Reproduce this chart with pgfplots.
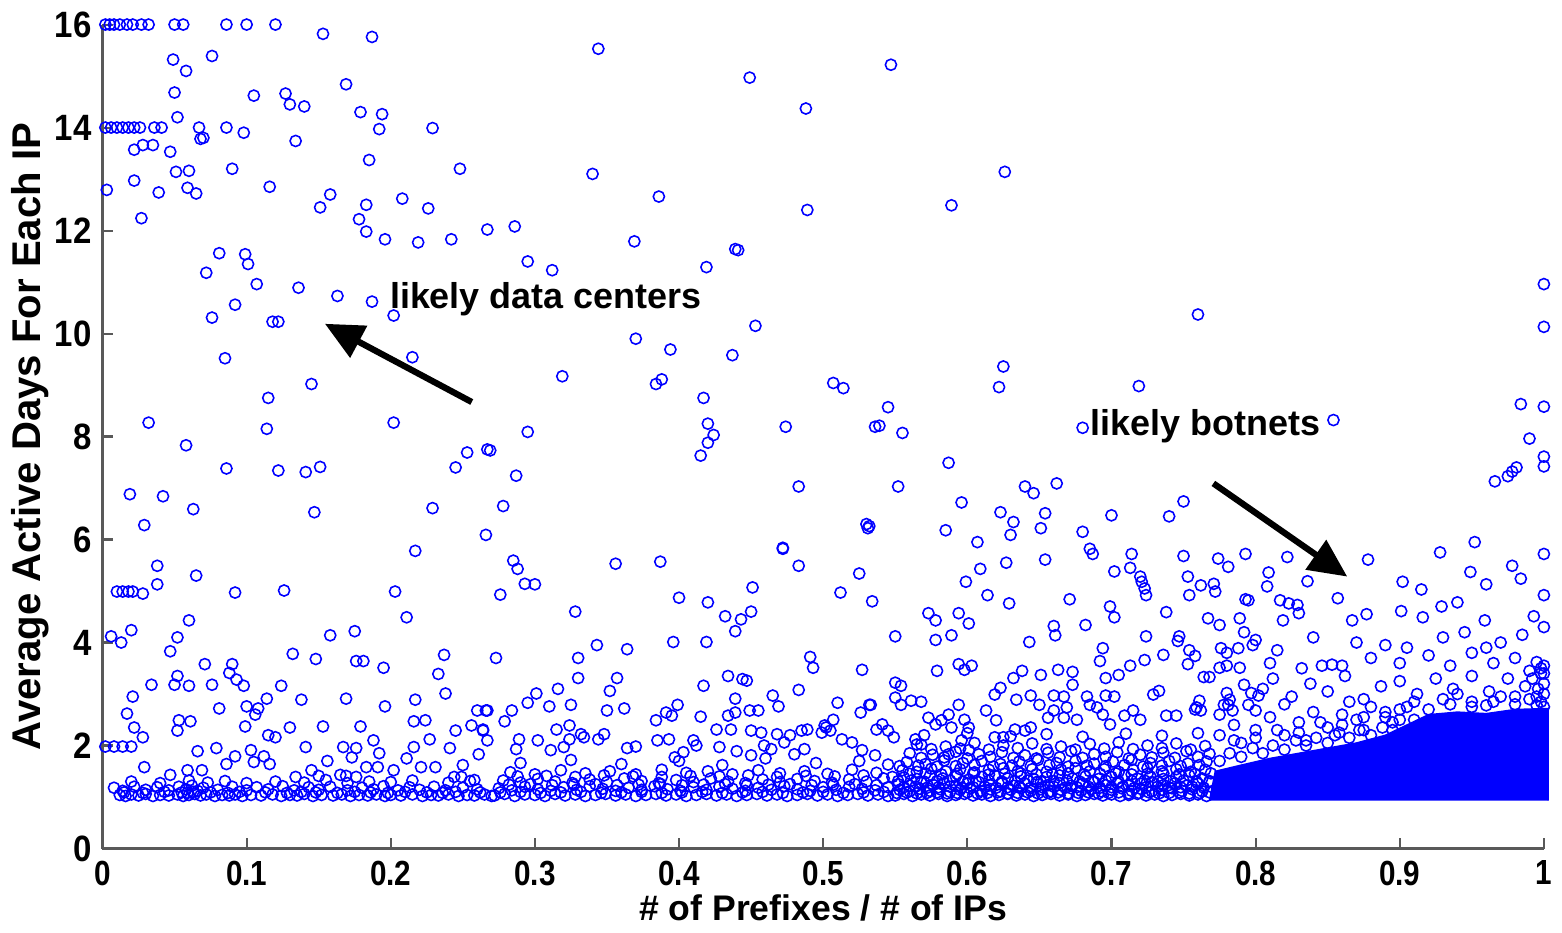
\documentclass[border=0pt]{standalone}
\usepackage{fontspec}
\setmainfont{Liberation Sans}
\usepackage{pgfplots}
\pgfplotsset{compat=1.18}
\usetikzlibrary{arrows.meta}

\pgfplotsset{dot/.style={only marks, mark=o, mark size=1.6pt, color=blue, mark options={line width=0.45pt}}}

\begin{document}
\begin{tikzpicture}
\begin{axis}[
    scale only axis,
    width=14.52cm, height=8.30cm,
    xmin=0, xmax=1, ymin=0, ymax=16,
    clip=false,
    axis x line*=bottom, axis y line*=left,
    axis line style={black!65, line width=0.6pt},
    tick align=inside,
    major tick length=1.1mm,
    tick style={black!65, line width=0.6pt},
    xtick={0,0.1,0.2,0.3,0.4,0.5,0.6,0.7,0.8,0.9,1},
    xticklabels={0,0.1,0.2,0.3,0.4,0.5,0.6,0.7,0.8,0.9,1},
    ytick={0,2,4,6,8,10,12,14,16},
    yticklabels={0,2,4,6,8,10,12,14,16},
    x tick label style={font=\bfseries\fontsize{10}{12}\selectfont, xscale=0.85},
    y tick label style={font=\bfseries\fontsize{10.5}{12}\selectfont, xscale=0.9},
    xlabel={\# of Prefixes / \# of IPs},
    ylabel={Average Active Days For Each IP},
    xlabel style={font=\bfseries\fontsize{10.2}{12}\selectfont, at={(axis description cs:0.5,-0.072)}, anchor=center},
    ylabel style={font=\bfseries\fontsize{11.5}{13}\selectfont, at={(axis description cs:-0.05,0.5)}, anchor=center},
]
% dense core of the botnet region
\addplot[fill=blue, draw=blue, line width=0.4pt, forget plot] coordinates {
(0.768,0.93)(0.772,1.50)(0.790,1.62)(0.810,1.75)(0.830,1.85)(0.850,1.95)(0.870,2.05)(0.890,2.20)
(0.905,2.40)(0.920,2.60)(0.940,2.65)(0.960,2.62)(0.980,2.70)(1.003,2.72)(1.003,0.93)};

% sparse points
\addplot[dot] coordinates {
(0.002,16)(0.005,16)(0.008,16)(0.012,16)(0.017,16)(0.021,16)(0.027,16)(0.032,16)(0.050,16)(0.056,16)(0.086,16)(0.100,16)(0.120,16)
(0.153,15.82)(0.187,15.76)(0.344,15.53)(0.547,15.22)(0.449,14.97)(0.488,14.37)
(0.049,15.32)(0.058,15.1)(0.076,15.39)(0.050,14.68)(0.105,14.62)(0.127,14.66)(0.130,14.45)(0.140,14.41)(0.169,14.84)(0.179,14.3)(0.194,14.26)(0.192,13.97)(0.229,13.99)(0.052,14.2)
(0.002,14)(0.006,14)(0.010,14)(0.014,14)(0.018,14)(0.022,14)(0.026,14)(0.036,14)(0.041,14)(0.067,14)(0.086,14)(0.098,13.9)
(0.068,13.78)(0.070,13.8)(0.022,13.57)(0.028,13.66)(0.035,13.66)(0.047,13.53)(0.134,13.74)(0.185,13.37)(0.248,13.2)(0.051,13.14)(0.060,13.16)(0.090,13.2)
(0.022,12.97)(0.003,12.79)(0.039,12.74)(0.059,12.83)(0.065,12.72)(0.116,12.85)(0.158,12.7)(0.151,12.45)(0.183,12.5)(0.208,12.62)(0.226,12.43)(0.027,12.24)
(0.178,12.22)(0.183,11.98)(0.196,11.83)(0.219,11.77)(0.242,11.83)(0.267,12.02)(0.081,11.56)(0.099,11.54)(0.101,11.35)(0.072,11.18)(0.107,10.96)(0.136,10.89)
(0.286,12.08)(0.295,11.4)(0.312,11.23)(0.369,11.79)(0.419,11.29)(0.439,11.64)(0.441,11.62)(0.386,12.66)(0.340,13.1)(0.489,12.4)(0.626,13.14)(0.589,12.49)
(1.0,10.96)(1.0,10.13)(0.760,10.37)
(0.163,10.73)(0.187,10.62)(0.202,10.35)(0.092,10.56)(0.076,10.31)(0.118,10.23)(0.122,10.23)(0.085,9.52)(0.215,9.54)(0.145,9.02)(0.115,8.75)(0.032,8.27)
(0.202,8.27)(0.114,8.15)(0.058,7.83)(0.086,7.38)(0.122,7.34)(0.141,7.31)(0.151,7.41)(0.253,7.69)(0.245,7.4)(0.267,7.75)(0.019,6.88)(0.042,6.84)(0.063,6.59)
(0.147,6.53)(0.029,6.28)(0.229,6.61)(0.266,6.09)(0.217,5.78)
(0.370,9.9)(0.394,9.69)(0.453,10.15)(0.437,9.58)(0.319,9.17)(0.384,9.02)(0.388,9.11)(0.417,8.75)(0.420,8.25)(0.424,8.03)(0.420,7.88)(0.415,7.63)(0.474,8.19)
(0.507,9.04)(0.514,8.94)(0.536,8.19)(0.295,8.09)(0.269,7.73)(0.287,7.24)(0.278,6.65)(0.483,7.03)(0.530,6.3)(0.531,6.22)(0.472,5.84)
(0.625,9.36)(0.622,8.96)(0.719,8.98)(0.680,8.17)(0.545,8.57)(0.539,8.21)(0.555,8.07)(0.587,7.49)(0.552,7.03)(0.596,6.72)(0.640,7.03)(0.646,6.9)(0.662,7.09)
(0.623,6.53)(0.632,6.34)(0.654,6.51)(0.651,6.22)(0.630,6.09)(0.585,6.18)(0.607,5.95)(0.680,6.15)(0.700,6.47)(0.740,6.45)(0.750,6.74)(0.532,6.26)
(0.854,8.32)(0.984,8.63)(1.0,8.58)(0.990,7.96)(1.0,7.61)(1.0,7.42)(0.981,7.4)(0.978,7.32)(0.975,7.23)(0.966,7.13)(0.952,5.95)
(0.822,5.66)(0.878,5.61)(0.928,5.75)(1.0,5.72)(0.809,5.36)(0.808,5.09)(0.836,5.19)(0.817,4.82)(0.823,4.76)(0.829,4.73)(0.830,4.57)(0.857,4.86)(0.902,5.18)
(0.915,5.03)(0.949,5.37)(0.978,5.49)(0.984,5.24)(0.960,5.13)(1.0,4.92)(0.929,4.7)(0.940,4.78)(0.901,4.61)(0.916,4.49)(0.877,4.55)(0.867,4.43)(0.959,4.43)
(0.993,4.51)(0.819,4.43)(0.795,4.82)
};

% lower left region
\addplot[dot] coordinates {
(0.038,5.49)(0.038,5.13)(0.065,5.3)(0.010,4.99)(0.014,4.99)(0.018,4.99)(0.021,4.99)(0.028,4.95)(0.092,4.97)(0.126,5.01)(0.203,4.99)(0.211,4.49)(0.060,4.43)
(0.020,4.24)(0.052,4.1)(0.006,4.12)(0.013,4.0)(0.047,3.83)(0.132,3.78)(0.148,3.68)(0.158,4.14)(0.175,4.22)(0.071,3.58)(0.090,3.58)(0.088,3.41)(0.093,3.28)
(0.098,3.16)(0.034,3.18)(0.050,3.18)(0.060,3.16)(0.076,3.18)(0.052,3.35)(0.021,2.95)(0.017,2.62)(0.022,2.35)(0.028,2.16)(0.002,1.98)(0.008,1.98)(0.014,1.98)
(0.020,1.98)(0.029,1.58)(0.053,2.49)(0.061,2.47)(0.052,2.29)(0.081,2.72)(0.100,2.76)(0.108,2.72)(0.106,2.6)(0.114,2.91)(0.099,2.37)(0.124,3.16)(0.138,2.89)
(0.169,2.91)(0.195,3.51)(0.196,2.76)(0.217,2.89)(0.237,3.76)(0.233,3.39)(0.238,3.01)(0.260,2.68)(0.266,2.68)(0.256,2.39)(0.245,2.29)(0.264,2.29)(0.216,2.47)
(0.224,2.49)(0.181,3.64)(0.176,3.64)(0.130,2.35)(0.153,2.37)(0.179,2.37)(0.188,2.1)(0.227,2.12)(0.115,2.2)(0.120,2.16)(0.066,1.89)(0.079,1.95)(0.092,1.79)
(0.103,1.91)(0.112,1.79)(0.116,1.64)(0.105,1.68)(0.086,1.64)(0.141,1.97)(0.167,1.97)(0.176,1.95)(0.173,1.77)(0.192,1.85)(0.211,1.75)(0.216,1.97)(0.241,1.95)
(0.250,1.62)(0.261,1.83)(0.156,1.7)(0.231,1.58)(0.059,1.52)(0.069,1.52)(0.047,1.43)(0.134,1.39)(0.145,1.52)(0.150,1.41)(0.165,1.43)(0.169,1.41)(0.176,1.39)
(0.183,1.58)(0.191,1.58)(0.202,1.52)(0.221,1.58)(0.244,1.39)(0.249,1.39)(0.258,1.33)
(0.012,1.04)(0.016,1.02)(0.020,1.05)(0.025,1.03)(0.030,1.06)(0.035,1.02)(0.040,1.04)(0.046,1.03)(0.052,1.05)(0.056,1.02)(0.060,1.04)(0.064,1.06)(0.068,1.03)
(0.072,1.05)(0.078,1.02)(0.083,1.04)(0.088,1.03)(0.092,1.05)(0.097,1.02)(0.103,1.04)(0.110,1.03)(0.118,1.05)(0.124,1.02)(0.130,1.04)(0.135,1.03)(0.140,1.06)
(0.146,1.02)(0.152,1.04)(0.160,1.03)(0.166,1.05)(0.172,1.02)(0.178,1.04)(0.184,1.03)(0.190,1.05)(0.196,1.02)(0.200,1.04)(0.207,1.03)(0.215,1.05)(0.222,1.02)
(0.228,1.04)(0.233,1.03)(0.240,1.05)(0.247,1.02)(0.253,1.04)(0.258,1.03)(0.265,1.05)(0.270,1.02)
(0.015,1.09)(0.028,1.08)(0.043,1.10)(0.055,1.09)(0.059,1.08)(0.063,1.10)(0.075,1.09)(0.087,1.08)(0.095,1.10)(0.113,1.09)(0.128,1.08)(0.138,1.10)(0.148,1.09)
(0.163,1.08)(0.175,1.10)(0.186,1.09)(0.198,1.08)(0.210,1.10)(0.225,1.09)(0.236,1.08)(0.245,1.10)(0.262,1.09)
(0.008,1.18)(0.014,1.12)(0.022,1.20)(0.030,1.14)(0.038,1.19)(0.046,1.13)(0.053,1.20)(0.058,1.15)(0.062,1.22)(0.066,1.12)(0.070,1.18)(0.080,1.14)(0.090,1.20)
(0.100,1.13)(0.107,1.19)(0.115,1.15)(0.125,1.21)(0.133,1.13)(0.143,1.19)(0.150,1.14)(0.158,1.20)(0.170,1.13)(0.180,1.18)(0.188,1.15)(0.195,1.21)(0.205,1.13)
(0.213,1.19)(0.220,1.14)(0.230,1.20)(0.238,1.13)(0.250,1.18)(0.260,1.15)
(0.020,1.30)(0.040,1.27)(0.060,1.32)(0.073,1.28)(0.085,1.31)(0.100,1.27)(0.120,1.30)(0.140,1.28)(0.155,1.33)(0.170,1.27)(0.185,1.30)(0.200,1.29)(0.215,1.32)
(0.240,1.28)(0.255,1.31)
};

% middle region
\addplot[dot] coordinates {
(0.285,5.59)(0.288,5.43)(0.293,5.14)(0.300,5.13)(0.276,4.93)(0.356,5.53)(0.387,5.57)(0.328,4.6)(0.400,4.87)(0.420,4.78)(0.432,4.51)(0.443,4.45)(0.450,4.6)
(0.451,5.07)(0.439,4.22)(0.483,5.49)(0.472,5.82)(0.525,5.34)(0.512,4.97)(0.534,4.8)(0.396,4.01)(0.419,4.01)(0.273,3.7)(0.330,3.7)(0.343,3.95)(0.364,3.87)
(0.330,3.31)(0.357,3.31)(0.352,3.06)(0.316,3.1)(0.301,3.01)(0.295,2.83)(0.284,2.68)(0.267,2.68)(0.279,2.47)(0.310,2.76)(0.325,2.79)(0.350,2.68)(0.362,2.72)
(0.399,2.79)(0.384,2.49)(0.391,2.64)(0.395,2.58)(0.415,2.56)(0.417,3.16)(0.434,3.35)(0.444,3.29)(0.447,3.26)(0.439,2.91)(0.439,2.64)(0.434,2.58)(0.449,2.68)
(0.455,2.68)(0.465,2.97)(0.469,2.76)(0.483,3.08)(0.491,3.72)(0.493,3.51)(0.527,3.47)(0.510,2.83)(0.532,2.79)(0.526,2.64)(0.507,2.5)(0.501,2.39)(0.505,2.29)
(0.426,2.31)(0.436,2.31)(0.450,2.29)(0.457,2.25)(0.468,2.22)(0.477,2.2)(0.485,2.29)(0.489,2.31)(0.410,2.1)(0.412,2.0)(0.315,2.31)(0.324,2.39)(0.332,2.22)
(0.334,2.16)(0.324,2.12)(0.320,1.97)(0.311,1.91)(0.302,2.1)(0.289,2.12)(0.287,1.93)(0.267,2.1)(0.264,2.31)(0.344,2.12)(0.348,2.22)(0.364,1.95)(0.370,1.98)
(0.385,2.1)(0.393,2.12)(0.397,1.77)(0.403,1.87)(0.428,1.97)(0.440,1.89)(0.450,1.81)(0.459,2.0)(0.464,1.93)(0.473,2.06)(0.480,1.83)(0.487,1.93)(0.499,2.25)
(0.502,2.35)(0.513,2.12)(0.520,2.06)(0.527,1.91)(0.536,1.81)(0.537,2.31)
(0.272,1.03)(0.279,1.06)(0.286,1.02)(0.293,1.05)(0.300,1.04)(0.307,1.02)(0.314,1.06)(0.321,1.03)(0.328,1.05)(0.335,1.02)(0.342,1.04)(0.349,1.06)(0.356,1.03)
(0.363,1.05)(0.370,1.02)(0.377,1.04)(0.384,1.06)(0.391,1.03)(0.398,1.05)(0.405,1.02)(0.412,1.04)(0.419,1.06)(0.426,1.03)(0.433,1.05)(0.440,1.02)(0.447,1.04)
(0.454,1.06)(0.461,1.03)(0.468,1.05)(0.475,1.02)(0.482,1.04)(0.489,1.06)(0.496,1.03)(0.503,1.05)(0.510,1.02)(0.517,1.04)(0.524,1.06)(0.531,1.03)(0.538,1.05)
(0.545,1.02)
(0.276,1.09)(0.290,1.10)(0.304,1.08)(0.318,1.09)(0.332,1.10)(0.346,1.08)(0.360,1.09)(0.374,1.10)(0.388,1.08)(0.402,1.09)(0.416,1.10)(0.430,1.08)(0.444,1.09)
(0.458,1.10)(0.472,1.08)(0.486,1.09)(0.500,1.10)(0.514,1.08)(0.528,1.09)(0.542,1.10)
(0.275,1.17)(0.284,1.13)(0.293,1.20)(0.302,1.15)(0.311,1.12)(0.320,1.19)(0.329,1.14)(0.338,1.21)(0.347,1.16)(0.356,1.12)(0.365,1.18)(0.374,1.14)(0.383,1.21)
(0.392,1.15)(0.401,1.12)(0.410,1.19)(0.419,1.14)(0.428,1.20)(0.437,1.16)(0.446,1.12)(0.455,1.18)(0.464,1.14)(0.473,1.21)(0.482,1.15)(0.491,1.12)(0.500,1.19)
(0.509,1.14)(0.518,1.20)(0.527,1.16)(0.536,1.13)(0.545,1.19)
(0.282,1.24)(0.297,1.25)(0.312,1.23)(0.327,1.24)(0.342,1.25)(0.357,1.23)(0.372,1.24)(0.387,1.25)(0.402,1.23)(0.417,1.24)(0.432,1.25)(0.447,1.23)(0.462,1.24)
(0.477,1.25)(0.492,1.23)(0.507,1.24)(0.522,1.25)(0.537,1.23)
(0.278,1.32)(0.290,1.28)(0.302,1.35)(0.314,1.30)(0.326,1.27)(0.338,1.34)(0.350,1.29)(0.362,1.36)(0.374,1.31)(0.386,1.27)(0.398,1.33)(0.410,1.29)(0.422,1.36)
(0.434,1.30)(0.446,1.27)(0.458,1.34)(0.470,1.29)(0.482,1.35)(0.494,1.31)(0.506,1.28)(0.518,1.34)(0.530,1.30)(0.542,1.36)
(0.288,1.40)(0.308,1.41)(0.328,1.39)(0.348,1.42)(0.368,1.40)(0.388,1.39)(0.408,1.41)(0.428,1.40)(0.448,1.42)(0.468,1.39)(0.488,1.41)(0.508,1.40)(0.528,1.42)
(0.548,1.39)
(0.283,1.48)(0.300,1.44)(0.318,1.52)(0.335,1.46)(0.352,1.50)(0.370,1.44)(0.388,1.53)(0.405,1.47)(0.420,1.50)(0.437,1.44)(0.455,1.52)(0.470,1.46)(0.487,1.50)
(0.503,1.45)(0.520,1.53)(0.537,1.47)
(0.290,1.66)(0.325,1.72)(0.360,1.64)(0.400,1.70)(0.430,1.62)(0.460,1.75)(0.495,1.66)(0.525,1.70)(0.545,1.63)
};

% right-middle region
\addplot[dot] coordinates {
(0.627,5.55)(0.654,5.61)(0.609,5.43)(0.599,5.18)(0.614,4.92)(0.629,4.76)(0.573,4.57)(0.578,4.43)(0.594,4.57)(0.601,4.37)(0.550,4.12)(0.578,4.05)(0.589,4.14)
(0.579,3.45)(0.594,3.58)(0.598,3.47)(0.603,3.55)(0.643,4.01)(0.660,4.32)(0.661,4.14)(0.671,4.84)(0.685,5.82)(0.687,5.72)(0.714,5.72)(0.702,5.38)(0.713,5.45)
(0.720,5.28)(0.721,5.18)(0.723,5.05)(0.724,4.92)(0.699,4.7)(0.702,4.49)(0.682,4.34)(0.694,3.89)(0.692,3.64)(0.696,3.31)(0.705,3.37)(0.713,3.55)(0.723,3.66)
(0.724,4.12)(0.736,3.76)(0.738,4.59)(0.750,5.68)(0.753,5.28)(0.754,4.92)(0.762,5.11)(0.771,5.14)(0.772,4.99)(0.774,5.63)(0.781,5.47)(0.793,5.72)(0.793,4.84)
(0.767,4.47)(0.775,4.34)(0.789,4.47)(0.792,4.2)(0.747,4.12)(0.746,4.03)(0.754,3.85)(0.758,3.74)(0.753,3.58)(0.764,3.33)(0.768,3.33)(0.776,3.89)(0.780,3.8)
(0.775,3.51)(0.780,3.55)(0.788,3.89)(0.798,3.95)(0.800,4.05)(0.789,3.51)(0.761,2.87)(0.759,2.74)(0.780,3.02)(0.782,2.89)(0.778,2.79)(0.792,3.18)(0.797,3.02)
(0.802,2.97)(0.632,3.31)(0.638,3.45)(0.619,2.99)(0.623,3.12)(0.651,3.37)(0.663,3.47)(0.673,3.43)(0.673,3.18)(0.634,2.89)(0.644,2.97)(0.650,2.79)(0.660,2.97)
(0.667,2.95)(0.683,2.95)(0.696,2.97)(0.702,2.95)(0.550,3.22)(0.554,3.16)(0.550,2.93)(0.554,2.79)(0.561,2.87)(0.568,2.85)(0.533,2.79)(0.594,2.79)
(0.541,2.41)(0.545,2.29)(0.549,2.16)(0.564,2.12)(0.568,2.02)(0.573,2.54)(0.578,2.41)(0.582,2.49)(0.587,2.6)(0.589,2.35)(0.598,2.5)(0.601,2.35)(0.587,1.83)
(0.596,2.1)(0.601,1.91)(0.613,2.68)(0.620,2.49)(0.619,2.16)(0.625,2.16)(0.633,2.31)(0.640,2.29)(0.644,2.35)(0.656,2.54)(0.660,2.68)(0.667,2.54)(0.669,2.74)
(0.676,2.5)(0.685,2.79)(0.690,2.74)(0.694,2.6)(0.699,2.41)(0.709,2.58)(0.715,2.68)(0.720,2.5)(0.729,2.99)(0.733,3.06)(0.738,2.58)(0.745,2.58)(0.758,2.7)
(0.762,2.68)(0.775,2.6)(0.781,2.79)(0.784,2.68)(0.795,2.79)(0.800,2.68)
(0.550,1.03)(0.556,1.06)(0.562,1.02)(0.568,1.05)(0.574,1.03)(0.580,1.06)(0.586,1.02)(0.592,1.04)(0.598,1.06)(0.604,1.03)(0.610,1.05)(0.616,1.02)(0.622,1.04)
(0.628,1.06)(0.634,1.03)(0.640,1.05)(0.646,1.02)(0.652,1.04)(0.658,1.06)(0.664,1.03)(0.670,1.05)(0.676,1.02)(0.682,1.04)(0.688,1.06)(0.694,1.03)(0.700,1.05)
(0.706,1.02)(0.712,1.04)(0.718,1.06)(0.724,1.03)(0.730,1.05)(0.736,1.02)(0.742,1.04)(0.748,1.06)(0.754,1.03)(0.760,1.05)(0.766,1.02)
(0.551,1.08)(0.558,1.09)(0.565,1.07)(0.572,1.08)(0.579,1.09)(0.586,1.07)(0.593,1.08)(0.600,1.09)(0.607,1.07)(0.614,1.08)(0.621,1.09)(0.628,1.07)(0.635,1.08)
(0.642,1.09)(0.649,1.07)(0.656,1.08)(0.663,1.09)(0.670,1.07)(0.677,1.08)(0.684,1.09)(0.691,1.07)(0.698,1.08)(0.705,1.09)(0.712,1.07)(0.719,1.08)(0.726,1.09)
(0.733,1.07)(0.740,1.08)(0.747,1.09)(0.754,1.07)(0.761,1.08)(0.768,1.09)
(0.553,1.14)(0.560,1.11)(0.567,1.16)(0.574,1.12)(0.581,1.15)(0.588,1.10)(0.595,1.14)(0.602,1.17)(0.609,1.12)(0.616,1.15)(0.623,1.11)(0.630,1.14)(0.637,1.17)
(0.644,1.12)(0.651,1.15)(0.658,1.11)(0.665,1.14)(0.672,1.17)(0.679,1.12)(0.686,1.15)(0.693,1.11)(0.700,1.14)(0.707,1.17)(0.714,1.12)(0.721,1.15)(0.728,1.11)
(0.735,1.14)(0.742,1.17)(0.749,1.12)(0.756,1.15)(0.763,1.11)
(0.556,1.19)(0.564,1.20)(0.572,1.18)(0.580,1.19)(0.588,1.20)(0.596,1.18)(0.604,1.19)(0.612,1.20)(0.620,1.18)(0.628,1.19)(0.636,1.20)(0.644,1.18)(0.652,1.19)
(0.660,1.20)(0.668,1.18)(0.676,1.19)(0.684,1.20)(0.692,1.18)(0.700,1.19)(0.708,1.20)(0.716,1.18)(0.724,1.19)(0.732,1.20)(0.740,1.18)(0.748,1.19)(0.756,1.20)
(0.764,1.18)
(0.552,1.25)(0.560,1.22)(0.568,1.28)(0.576,1.24)(0.584,1.27)(0.592,1.21)(0.600,1.26)(0.608,1.29)(0.616,1.23)(0.624,1.27)(0.632,1.22)(0.640,1.26)(0.648,1.29)
(0.656,1.23)(0.664,1.27)(0.672,1.22)(0.680,1.26)(0.688,1.29)(0.696,1.23)(0.704,1.27)(0.712,1.22)(0.720,1.26)(0.728,1.29)(0.736,1.23)(0.744,1.27)(0.752,1.22)
(0.760,1.26)(0.768,1.29)
(0.552,1.31)(0.561,1.32)(0.570,1.30)(0.579,1.31)(0.588,1.32)(0.597,1.30)(0.606,1.31)(0.615,1.32)(0.624,1.30)(0.633,1.31)(0.642,1.32)(0.651,1.30)(0.660,1.31)
(0.669,1.32)(0.678,1.30)(0.687,1.31)(0.696,1.32)(0.705,1.30)(0.714,1.31)(0.723,1.32)(0.732,1.30)(0.741,1.31)(0.750,1.32)(0.759,1.30)(0.768,1.31)
(0.556,1.38)(0.565,1.35)(0.574,1.41)(0.583,1.36)(0.592,1.40)(0.601,1.34)(0.610,1.39)(0.619,1.42)(0.628,1.36)(0.637,1.40)(0.646,1.35)(0.655,1.39)(0.664,1.42)
(0.673,1.36)(0.682,1.40)(0.691,1.35)(0.700,1.39)(0.709,1.42)(0.718,1.36)(0.727,1.40)(0.736,1.35)(0.745,1.39)(0.754,1.42)(0.763,1.36)
(0.560,1.45)(0.571,1.46)(0.582,1.44)(0.593,1.45)(0.604,1.46)(0.615,1.44)(0.626,1.45)(0.637,1.46)(0.648,1.44)(0.659,1.45)(0.670,1.46)(0.681,1.44)(0.692,1.45)
(0.703,1.46)(0.714,1.44)(0.725,1.45)(0.736,1.46)(0.747,1.44)(0.758,1.45)(0.769,1.46)
(0.555,1.52)(0.565,1.49)(0.575,1.55)(0.585,1.50)(0.595,1.54)(0.605,1.48)(0.615,1.53)(0.625,1.56)(0.635,1.50)(0.645,1.54)(0.655,1.49)(0.665,1.53)(0.675,1.56)
(0.685,1.50)(0.695,1.54)(0.705,1.49)(0.715,1.53)(0.725,1.56)(0.735,1.50)(0.745,1.54)(0.755,1.49)(0.765,1.53)
(0.553,1.60)(0.566,1.61)(0.579,1.59)(0.592,1.60)(0.605,1.62)(0.618,1.59)(0.631,1.61)(0.644,1.60)(0.657,1.62)(0.670,1.59)(0.683,1.61)(0.696,1.60)(0.709,1.62)
(0.722,1.59)(0.735,1.61)(0.748,1.60)(0.761,1.62)
(0.558,1.68)(0.571,1.64)(0.584,1.71)(0.597,1.66)(0.610,1.70)(0.623,1.64)(0.636,1.69)(0.649,1.72)(0.662,1.66)(0.675,1.70)(0.688,1.65)(0.701,1.69)(0.714,1.72)
(0.727,1.66)(0.740,1.70)(0.753,1.65)(0.766,1.69)
(0.568,1.76)(0.584,1.77)(0.600,1.75)(0.616,1.78)(0.632,1.76)(0.648,1.75)(0.664,1.77)(0.680,1.76)(0.696,1.78)(0.712,1.75)(0.728,1.77)(0.744,1.76)(0.760,1.78)
(0.560,1.85)(0.576,1.82)(0.592,1.88)(0.608,1.83)(0.624,1.87)(0.640,1.81)(0.656,1.86)(0.672,1.89)(0.688,1.83)(0.704,1.87)(0.720,1.82)(0.736,1.86)(0.752,1.89)
(0.768,1.84)
(0.575,1.93)(0.595,1.94)(0.615,1.92)(0.635,1.95)(0.655,1.93)(0.675,1.92)(0.695,1.94)(0.715,1.93)(0.735,1.95)(0.755,1.92)
(0.565,2.02)(0.585,1.98)(0.605,2.05)(0.625,2.00)(0.645,2.04)(0.665,1.98)(0.685,2.03)(0.705,2.06)(0.725,2.00)(0.745,2.04)(0.765,1.99)
(0.570,2.20)(0.600,2.24)(0.630,2.18)(0.655,2.22)(0.680,2.17)(0.710,2.23)(0.735,2.19)(0.760,2.24)
};

% fringe of the dense botnet region
\addplot[dot] coordinates {
(0.805,3.10)(0.812,3.30)(0.825,2.95)(0.838,3.20)(0.850,3.05)(0.862,3.35)(0.875,2.90)(0.887,3.15)(0.900,3.25)(0.912,3.00)(0.925,3.30)(0.937,3.10)(0.950,3.35)
(0.962,3.05)(0.975,3.30)(0.987,3.15)(0.998,3.40)
(0.810,3.60)(0.832,3.50)(0.846,3.55)(0.853,3.57)(0.860,3.55)(0.880,3.70)(0.900,3.60)(0.920,3.75)(0.935,3.55)(0.950,3.80)(0.965,3.60)(0.980,3.70)(0.995,3.62)
(0.998,3.50)(1.000,3.20)(1.000,3.00)(0.998,2.85)
(0.840,4.10)(0.870,4.00)(0.890,3.95)(0.930,4.10)(0.945,4.20)(0.970,4.00)(0.985,4.15)(1.000,4.30)(0.960,3.90)(0.815,3.85)(0.905,3.90)
(0.775,2.20)(0.785,2.40)(0.790,2.05)(0.800,2.30)(0.810,2.55)(0.820,2.20)(0.830,2.45)(0.840,2.65)(0.850,2.35)(0.860,2.60)(0.870,2.50)(0.880,2.75)(0.890,2.55)
(0.900,2.70)(0.910,2.85)(0.930,2.90)(0.950,2.85)(0.970,2.95)(0.990,2.90)(0.820,2.80)(0.865,2.85)(0.940,3.00)(0.960,2.78)(0.980,2.80)(0.835,2.10)(0.855,2.20)
(0.875,2.30)(0.895,2.45)(0.910,2.50)
(0.775,1.70)(0.782,1.85)(0.790,1.78)(0.798,1.95)(0.805,1.85)(0.812,2.00)(0.820,1.92)(0.828,2.10)(0.835,2.00)(0.842,2.15)(0.850,2.05)(0.858,2.25)(0.865,2.15)
(0.872,2.30)(0.880,2.20)(0.888,2.35)(0.895,2.30)(0.900,2.50)(0.785,2.10)(0.800,2.15)(0.815,2.30)(0.830,2.25)(0.845,2.45)(0.860,2.40)(0.875,2.55)(0.890,2.65)
(0.905,2.75)(0.920,2.70)(0.935,2.80)(0.950,2.75)(0.965,2.85)(0.980,2.95)(0.995,2.78)
(1.000,2.75)(1.000,3.40)(1.000,3.55)(0.996,3.10)(0.992,3.30)(0.995,2.95)(0.990,3.45)
};

% annotations
\draw[line width=1.8pt, -{Triangle[length=11pt,width=10pt]}] (axis cs:0.2562,8.67) -- (axis cs:0.1543,10.19);
\draw[line width=1.8pt, -{Triangle[length=11pt,width=10pt]}] (axis cs:0.7707,7.09) -- (axis cs:0.8636,5.28);
\node[anchor=west, inner sep=0pt, font=\bfseries\fontsize{10.3}{12}\selectfont] at (axis cs:0.199,10.67) {likely data centers};
\node[anchor=west, inner sep=0pt, font=\bfseries\fontsize{10.3}{12}\selectfont] at (axis cs:0.685,8.20) {likely botnets};
\end{axis}
\end{tikzpicture}
\end{document}
